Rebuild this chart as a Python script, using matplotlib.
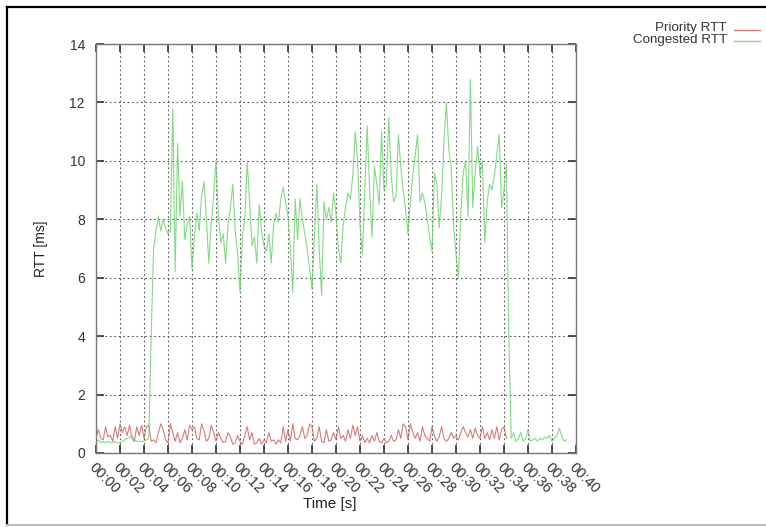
import numpy as np
import matplotlib
matplotlib.use("Agg")
import matplotlib.pyplot as plt
from matplotlib.lines import Line2D

plt.rcParams['font.family'] = ['Liberation Sans', 'DejaVu Sans']

step = 0.2
priority_rtt = [
    0.55, 0.8, 0.5, 0.45, 0.9, 0.55, 0.6, 0.4, 0.9, 0.5,
    1.0, 0.7, 0.9, 0.6, 0.95, 0.5, 0.4, 0.9, 0.6, 0.95,
    0.5, 0.9, 0.95, 0.4, 0.45, 0.35, 0.7, 1.0, 0.8, 0.45,
    0.35, 1.0, 0.7, 0.4, 0.7, 0.35, 0.5, 0.8, 0.45, 0.95,
    0.8, 0.9, 0.5, 0.45, 1.0, 0.75, 0.4, 0.5, 0.95, 0.7,
    0.4, 0.7, 0.5, 0.35, 0.4, 0.7, 0.55, 0.3, 0.35, 0.6,
    0.4, 0.3, 0.6, 0.9, 0.45, 0.7, 0.3, 0.35, 0.5, 0.3,
    0.45, 0.35, 0.7, 0.4, 0.45, 0.3, 0.45, 0.35, 0.9, 0.4,
    0.8, 0.4, 1.0, 0.5, 0.45, 0.6, 0.9, 0.5, 0.6, 1.0,
    0.9, 0.4, 0.5, 0.9, 0.4, 0.35, 0.8, 0.4, 0.45, 0.7,
    0.45, 0.9, 0.5, 0.6, 0.4, 0.8, 0.5, 0.95, 0.6, 0.9,
    0.4, 0.6, 0.35, 0.5, 0.35, 0.6, 0.4, 0.7, 0.4, 0.35,
    0.5, 0.35, 0.4, 0.6, 0.4, 0.45, 0.8, 0.5, 1.0, 0.9,
    0.45, 1.0, 0.7, 0.5, 0.7, 0.4, 0.9, 0.6, 0.5, 0.4,
    0.9, 0.6, 0.4, 0.55, 0.9, 0.5, 0.4, 0.5, 0.7, 0.5,
    0.6, 0.45, 0.7, 0.9, 0.7, 0.55, 0.8, 0.5, 0.85, 0.6,
    0.5, 0.9, 0.5, 0.7, 0.45, 0.8, 0.5, 0.9, 0.45, 0.8,
    0.9, 0.5,
]
congested_rtt = [
    0.4, 0.45, 0.35, 0.4, 0.35, 0.4, 0.35, 0.35, 0.4, 0.35,
    0.35, 0.4, 0.45, 0.5, 0.55, 0.6, 0.45, 0.4, 0.4, 0.4,
    0.4, 0.45, 0.5, 4.0, 7.0, 7.6, 8.1, 7.6, 8.0, 7.7,
    7.5, 7.6, 11.8, 6.2, 10.6, 8.1, 9.3, 7.3, 7.8, 8.1,
    6.3, 7.4, 8.2, 7.6, 8.8, 9.3, 8.0, 6.5, 7.8, 8.8,
    10.0, 8.1, 7.2, 7.5, 6.5, 7.8, 8.4, 9.2, 7.6, 6.8,
    5.5, 7.4, 8.0, 10.0, 8.6, 7.1, 7.4, 6.5, 8.5, 7.6,
    7.1, 6.9, 7.5, 6.5, 7.8, 8.2, 7.9, 8.7, 9.1, 8.6,
    8.1, 7.0, 5.5, 8.7, 7.3, 8.7, 8.0, 7.5, 7.0, 6.3,
    5.6, 7.4, 9.2, 7.0, 5.4, 8.6, 8.0, 8.4, 7.9, 8.9,
    8.2, 7.0, 6.5, 7.8, 8.4, 8.9, 8.7, 9.5, 11.0, 10.0,
    7.8, 6.8, 9.0, 11.2, 9.0, 7.4, 9.8, 9.2, 8.5, 11.0,
    9.0, 9.2, 11.5, 9.5, 8.6, 8.8, 10.9, 9.8, 9.0, 8.3,
    7.5, 8.6, 9.5, 10.2, 10.9, 8.6, 8.9, 8.6, 8.0, 7.4,
    6.9, 9.6, 9.2, 7.7, 8.8, 10.7, 12.0, 10.4, 9.8, 7.8,
    6.8, 6.0, 8.2, 9.6, 10.0, 8.1, 12.8, 8.4, 9.6, 10.5,
    9.5, 10.0, 7.2, 8.6, 9.2, 9.0, 9.5, 10.2, 10.9, 8.4,
    9.0, 9.9, 4.0, 0.5, 0.7, 0.4, 0.5, 0.7, 0.4, 0.5,
    0.8, 0.4, 0.45, 0.5, 0.4, 0.5, 0.45, 0.55, 0.5, 0.6,
    0.4, 0.5, 0.6, 0.85, 0.6, 0.4, 0.45,
]
x_ticks = list(range(0, 41, 2))
x_tick_labels = ["00:%02d" % s for s in x_ticks]
y_ticks = list(range(0, 15, 2))

t_prio = np.arange(len(priority_rtt)) * step
t_cong = np.arange(len(congested_rtt)) * step

W, H = 766, 527
fig = plt.figure(figsize=(W / 100, H / 100), dpi=100)
ax = fig.add_axes([96 / W, 1 - 453 / H, 480 / W, (453 - 44) / H])

red = '#cc5a5a'
green = '#66d066'
ax.plot(t_prio, priority_rtt, color=red, lw=0.8, alpha=0.8)
ax.plot(t_cong, congested_rtt, color=green, lw=0.8, alpha=0.8)

ax.set_xlim(0, 40)
ax.set_ylim(0, 14)
ax.set_xticks(x_ticks)
ax.set_xticklabels(x_tick_labels, rotation=-45, ha='left', va='top',
                   rotation_mode='anchor', fontsize=10.5, color='#333333')
ax.set_yticks(y_ticks)
ax.set_yticklabels([str(v) for v in y_ticks], fontsize=10, color='#333333')
ax.tick_params(axis='both', direction='in', length=6, width=1.2, color='#333333',
               top=True, right=True, pad=8)
ax.tick_params(axis='x', pad=5)
ax.grid(True, color='#555555', linestyle=(0, (1.5, 2.5)), linewidth=0.8)
for s in ax.spines.values():
    s.set_color('#777777')
    s.set_linewidth(1.0)

ax.set_xlabel('Time [s]', fontsize=11, color='#222222')
ax.set_ylabel('RTT [ms]', fontsize=10, color='#222222')
ax.xaxis.set_label_coords((330 - 96) / 480, -(497 - 453) / (453 - 44))
ax.yaxis.set_label_coords(-(96 - 48) / 480, 0.5)

# legend drawn as gnuplot-style key
fig.text(727 / W, 1 - 28.5 / H, 'Priority RTT', ha='right', va='center', fontsize=9.6, color='#333333')
fig.text(727 / W, 1 - 40.5 / H, 'Congested RTT', ha='right', va='center', fontsize=9.6, color='#333333')
fig.add_artist(Line2D([734 / W, 760 / W], [1 - 29.5 / H, 1 - 29.5 / H], color=red, lw=1.0, alpha=0.8))
fig.add_artist(Line2D([734 / W, 760 / W], [1 - 41 / H, 1 - 41 / H], color=green, lw=1.0, alpha=0.8))

# outer frame
fig.add_artist(Line2D([7 / W, 1.0], [1 - 6.5 / H, 1 - 6.5 / H], color='black', lw=1.6))
fig.add_artist(Line2D([7 / W, 7 / W], [1 - 6.5 / H, 1 - 525 / H], color='black', lw=1.6))
fig.add_artist(Line2D([7 / W, 1.0], [1 - 525 / H, 1 - 525 / H], color='#bbbbbb', lw=1.5))

fig.savefig('out.png', dpi=100)
